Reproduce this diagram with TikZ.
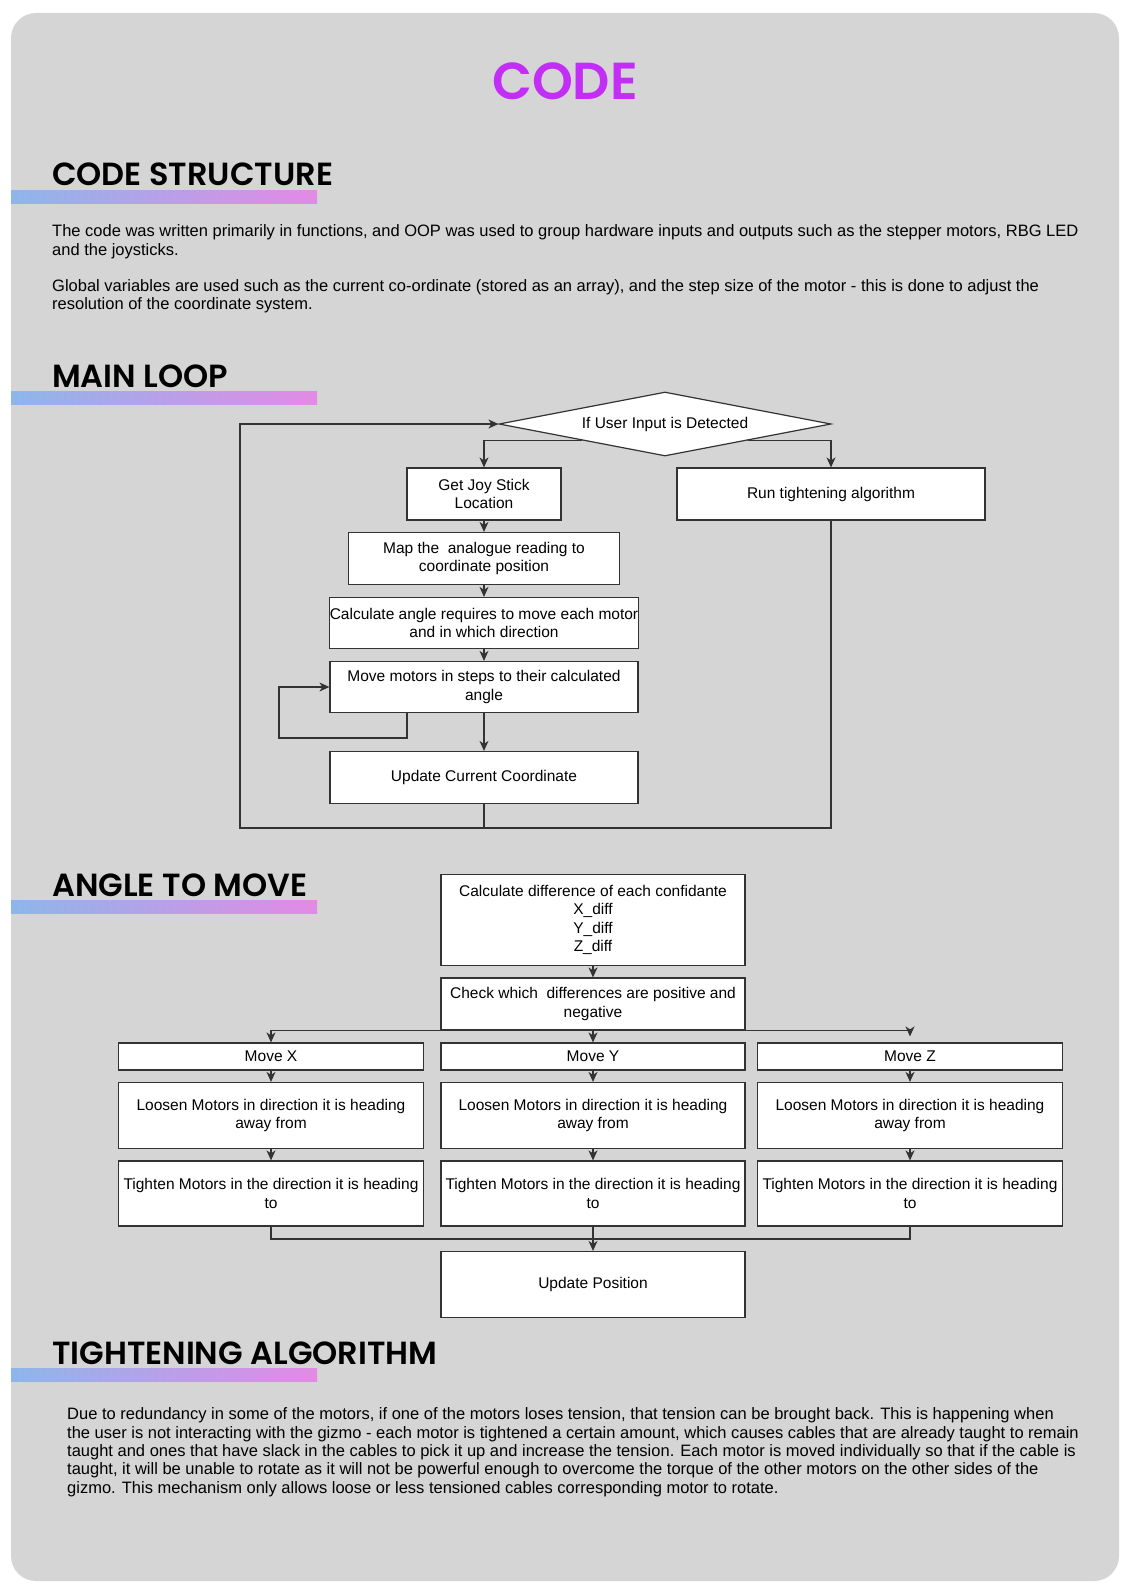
\documentclass[tikz,border=0pt]{standalone}
\usepackage{fontspec}
\setmainfont{Liberation Sans}
\IfFontExistsTF{Poppins SemiBold}
  {\newfontfamily\headfont{Poppins SemiBold}}
  {\newfontfamily\headfont{Poppins}[UprightFeatures={FakeBold=0}]}
\usetikzlibrary{shapes.geometric,arrows.meta,positioning,calc}
\definecolor{panelgray}{HTML}{D5D5D5}
\definecolor{titlepink}{HTML}{C22EF5}
\definecolor{barblue}{HTML}{8DB6EA}
\definecolor{barpink}{HTML}{E38AE4}
\tikzset{
  flowbox/.style={
    draw=black!80,
    fill=white,
    line width=1.2pt,
    inner sep=0pt,
    align=center,
    font=\fontsize{15.5}{18.3}\selectfont
  },
  decide/.style={
    flowbox,
    shape=diamond,
    aspect=5.2
  },
  flow/.style={
    draw=black!80,
    line width=1.2pt,
    -{Stealth[length=10pt,width=9pt,inset=3pt]}
  },
  joinline/.style={
    draw=black!80,
    line width=1.2pt
  },
  heading/.style={
    anchor=base west,
    inner sep=0pt,
    font=\headfont\fontsize{32}{36}\selectfont
  },
  bodytext/.style={
    anchor=base west,
    inner sep=0pt,
    align=left,
    font=\fontsize{16.5}{18.3}\selectfont
  }
}
\newcommand{\headbar}[1]{\shade[left color=barblue, right color=barpink] (11,#1) rectangle (317,#1+13);}
\begin{document}
\begin{tikzpicture}[x=1pt,y=-1pt]
  \useasboundingbox (0,0) rectangle (1128,1592);
  \fill[white] (0,0) rectangle (1128,1592);
  \fill[panelgray, rounded corners=25pt] (11,13) rectangle (1119,1581);

  % title and headings
  \node[anchor=base, inner sep=0pt, text=titlepink,
    font=\headfont\fontsize{52}{56}\selectfont] (title) at (565,99.5) {CODE};
  \node[heading] (hstruct) at (52,185) {CODE STRUCTURE};
  \headbar{190}
  \node[heading] (hloop) at (52,387) {MAIN LOOP};
  \headbar{391}
  \node[heading] (hangle) at (52,896) {ANGLE TO MOVE};
  \headbar{900}
  \node[heading] (htight) at (52,1364) {TIGHTENING ALGORITHM};
  \headbar{1368}

  % base = last line
  \node[bodytext] (para1) at (52,255) {The code was written primarily in functions, and OOP was used to group hardware inputs and outputs such as the stepper motors, RBG LED\\and the joysticks.};
  \node[bodytext] (para2) at (52,309.5) {Global variables are used such as the current co-ordinate (stored as an array), and the step size of the motor - this is done to adjust the\\resolution of the coordinate system.};
  \node[bodytext] (para3) at (67,1493) {Due to redundancy in some of the motors, if one of the motors loses tension, that tension can be brought back. This is happening when\\the user is not interacting with the gizmo - each motor is tightened a certain amount, which causes cables that are already taught to remain\\taught and ones that have slack in the cables to pick it up and increase the tension. Each motor is moved individually so that if the cable is\\taught, it will be unable to rotate as it will not be powerful enough to overcome the torque of the other motors on the other sides of the\\gizmo. This mechanism only allows loose or less tensioned cables corresponding motor to rotate.};

  % main loop
  \node[decide, minimum width=332pt, minimum height=64pt] (input) at (665,424) {If User Input is Detected};
  \node[flowbox, minimum width=154pt, minimum height=52pt] (joy) at (484,494) {Get Joy Stick\\Location};
  \node[flowbox, minimum width=308pt, minimum height=52pt] (tight) at (831,494) {Run tightening algorithm};
  \node[flowbox, minimum width=271pt, minimum height=52pt] (map) at (484,558.5) {Map the~ analogue reading to\\coordinate position};
  \node[flowbox, minimum width=308pt, minimum height=51pt] (calc) at (484,623) {Calculate angle requires to move each motor\\and in which direction};
  \node[flowbox, minimum width=308pt, minimum height=51pt] (move) at (484,687) {Move motors in steps to their calculated\\angle};
  \node[flowbox, minimum width=308pt, minimum height=52pt] (upd) at (484,777.5) {Update Current Coordinate};
  \coordinate (selfA) at (279,738);
  \coordinate (loopL) at (240,828);

  \draw[flow] (input.south west) -| (joy.north);
  \draw[flow] (input.south east) -| (tight.north);
  \draw[flow] (joy) -- (map);
  \draw[flow] (map) -- (calc);
  \draw[flow] (calc) -- (move);
  \draw[flow] (move) -- (upd);
  \draw[flow] ([xshift=-77pt]move.south) |- (selfA) |- (move.west);
  \draw[flow] (upd.south) |- (loopL) |- (input.west);
  \draw[joinline] (tight.south) |- (upd.south |- loopL);

  % angle to move
  \node[flowbox, minimum width=304pt, minimum height=91pt] (diff) at (593,920) {Calculate difference of each confidante\\X\_diff\\Y\_diff\\Z\_diff};
  \node[flowbox, minimum width=304pt, minimum height=52pt] (check) at (593,1004) {Check which~ differences are positive and\\negative};
  \node[flowbox, minimum width=305pt, minimum height=27pt] (mx) at (271,1056.5) {Move X};
  \node[flowbox, minimum width=304pt, minimum height=27pt] (my) at (593,1056.5) {Move Y};
  \node[flowbox, minimum width=305pt, minimum height=27pt] (mz) at (910,1056.5) {Move Z};
  \node[flowbox, minimum width=305pt, minimum height=66pt] (lx) at (271,1115.5) {Loosen Motors in direction it is heading\\away from};
  \node[flowbox, minimum width=304pt, minimum height=66pt] (ly) at (593,1115.5) {Loosen Motors in direction it is heading\\away from};
  \node[flowbox, minimum width=305pt, minimum height=66pt] (lz) at (910,1115.5) {Loosen Motors in direction it is heading\\away from};
  \node[flowbox, minimum width=305pt, minimum height=65pt] (tx) at (271,1193.5) {Tighten Motors in the direction it is heading\\to};
  \node[flowbox, minimum width=304pt, minimum height=65pt] (ty) at (593,1193.5) {Tighten Motors in the direction it is heading\\to};
  \node[flowbox, minimum width=305pt, minimum height=65pt] (tz) at (910,1193.5) {Tighten Motors in the direction it is heading\\to};
  \node[flowbox, minimum width=304pt, minimum height=66pt] (pos) at (593,1284.5) {Update Position};
  \coordinate (merge) at (593,1239);

  \draw[flow] (diff) -- (check);
  \draw[flow] (check.south) -| (mx.north);
  \draw[flow] (check) -- (my);
  \draw[flow, shorten >=6pt] (check.south) -| (mz.north);
  \foreach \c in {x,y,z}{
    \draw[flow] (m\c) -- (l\c);
    \draw[flow] (l\c) -- (t\c);
  }
  \draw[joinline] (tx.south) |- (merge);
  \draw[joinline] (tz.south) |- (merge);
  \draw[flow] (ty) -- (pos);
\end{tikzpicture}
\end{document}
